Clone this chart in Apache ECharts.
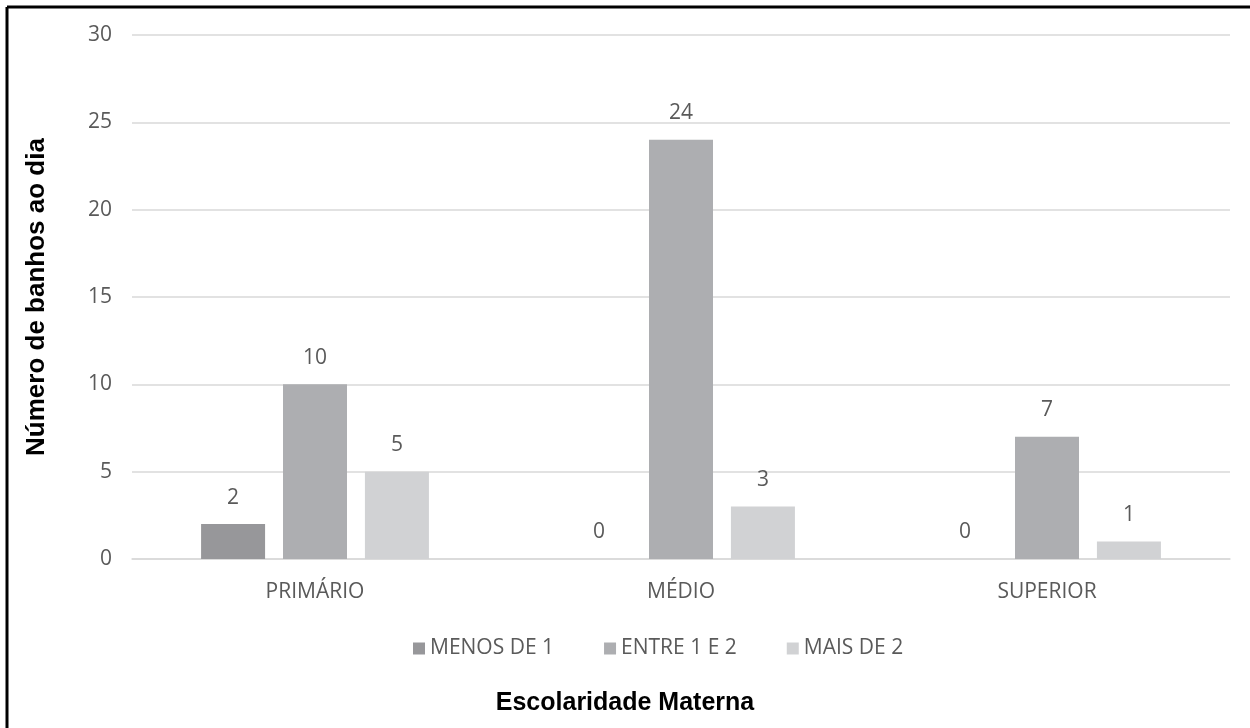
<!DOCTYPE html>
<html>
<head>
<meta charset="utf-8">
<script src="https://cdn.jsdelivr.net/npm/echarts@6/dist/echarts.min.js"></script>
<style>
  html, body { margin: 0; padding: 0; background: #fff; }
  #chart { width: 1250px; height: 728px; }
</style>
</head>
<body>
<div id="chart"></div>
<script>
const categories = ['PRIMÁRIO', 'MÉDIO', 'SUPERIOR'];
const seriesNames = ['MENOS DE 1', 'ENTRE 1 E 2', 'MAIS DE 2'];
const menosDe1 = [2, 0, 0];
const entre1e2 = [10, 24, 7];
const maisDe2 = [5, 3, 1];
const colors = ['#97979a', '#adaeb1', '#d1d2d4'];

const chart = echarts.init(document.getElementById('chart'));
const textColor = '#5a5a5a';
const font = 'Open Sans';

const mkSeries = (name, data, color) => ({
  name: name,
  type: 'bar',
  data: data,
  barWidth: 64,
  barGap: '28%',
  itemStyle: { color: color },
  label: {
    show: true,
    position: 'top',
    distance: 16,
    color: textColor,
    fontFamily: font,
    fontSize: 21
  }
});

chart.setOption({
  animation: false,
  textStyle: { fontFamily: font },
  title: {
    text: 'Escolaridade Materna',
    left: 'center',
    top: 686,
    textStyle: { color: '#000', fontFamily: 'Liberation Sans', fontWeight: 'bold', fontSize: 25 }
  },
  grid: { left: 132, right: 20, top: 35, bottom: 169 },
  legend: {
    top: 633,
    left: 408,
    itemWidth: 12,
    itemHeight: 12,
    itemGap: 50,
    icon: 'rect',
    textStyle: { color: textColor, fontFamily: font, fontSize: 21 },
    data: seriesNames
  },
  xAxis: {
    type: 'category',
    data: categories,
    axisLine: { lineStyle: { color: '#d9d9d9', width: 1.5 } },
    axisTick: { show: false },
    axisLabel: { color: textColor, fontFamily: font, fontSize: 21, margin: 23 }
  },
  yAxis: {
    type: 'value',
    min: 0,
    max: 30,
    interval: 5,
    name: 'Número de banhos ao dia',
    nameLocation: 'middle',
    nameGap: 82,
    nameTextStyle: { color: '#000', fontFamily: 'Liberation Sans', fontWeight: 'bold', fontSize: 26 },
    axisLine: { show: false },
    axisTick: { show: false },
    axisLabel: { color: textColor, fontFamily: font, fontSize: 21, margin: 20 },
    splitLine: { lineStyle: { color: '#d9d9d9', width: 1.5 } }
  },
  graphic: [
    { type: 'line', shape: { x1: 7, y1: 7, x2: 1250, y2: 7 }, style: { stroke: '#000', lineWidth: 3 } },
    { type: 'line', shape: { x1: 7, y1: 7, x2: 7, y2: 728 }, style: { stroke: '#000', lineWidth: 3 } }
  ],
  series: [
    mkSeries(seriesNames[0], menosDe1, colors[0]),
    mkSeries(seriesNames[1], entre1e2, colors[1]),
    mkSeries(seriesNames[2], maisDe2, colors[2])
  ]
});
</script>
</body>
</html>
